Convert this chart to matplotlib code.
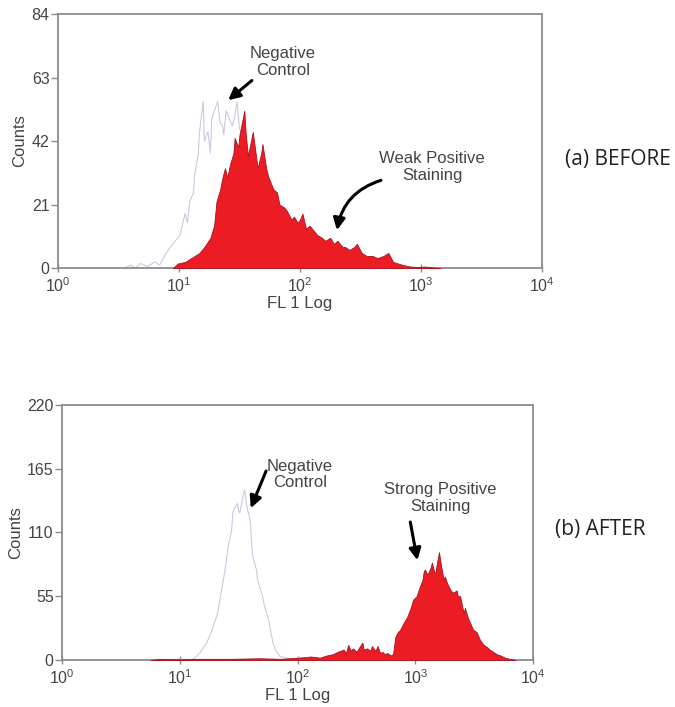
import matplotlib
matplotlib.use('Agg')
import matplotlib.pyplot as plt
import numpy as np

plt.rcParams['font.family'] = ['Liberation Sans', 'DejaVu Sans']
plt.rcParams['mathtext.fontset'] = 'custom'
plt.rcParams['mathtext.rm'] = 'Liberation Sans'
plt.rcParams['mathtext.it'] = 'Liberation Sans'

# --- (a) BEFORE: log10 of FL1 channel and counts
before_pos_log = [0.95, 0.99, 1.05, 1.09, 1.13, 1.17, 1.21, 1.26, 1.29, 1.31, 1.34, 1.36, 1.38, 1.40,
                  1.42, 1.45, 1.46, 1.49, 1.50, 1.52, 1.54, 1.55, 1.57, 1.59, 1.61, 1.64, 1.65, 1.68,
                  1.69, 1.72, 1.74, 1.75, 1.78, 1.81, 1.83, 1.87, 1.89, 1.93, 1.95, 1.98, 2.00, 2.02,
                  2.05, 2.08, 2.11, 2.14, 2.18, 2.21, 2.25, 2.28, 2.31, 2.35, 2.37, 2.41, 2.45, 2.47,
                  2.51, 2.55, 2.60, 2.64, 2.69, 2.73, 2.77, 2.81, 2.85, 2.91, 2.98, 3.03, 3.09, 3.16]
before_pos_cnt = [0, 1.5, 2, 3, 4, 5, 7, 10, 14, 22, 26, 30, 33, 30,
                  34, 38, 43, 40, 44, 48, 52, 45, 37, 41, 45, 36, 33, 38,
                  41, 33, 30, 29, 26, 25, 21, 20, 19, 16, 17, 15, 16, 18,
                  13, 14, 12.5, 11, 10, 9, 10, 8, 9, 7, 7, 6, 7, 8,
                  5, 4, 4, 3.3, 4, 5, 2, 1.5, 1, 0.5, 0.3, 0.5, 0.2, 0]

before_neg_log = [0.55, 0.60, 0.64, 0.68, 0.74, 0.80, 0.84, 0.88, 0.93, 0.97, 1.01, 1.05, 1.07, 1.09,
                  1.12, 1.13, 1.16, 1.17, 1.20, 1.21, 1.24, 1.26, 1.27, 1.30, 1.32, 1.34, 1.36, 1.37,
                  1.39, 1.41, 1.44, 1.46, 1.48, 1.50, 1.52, 1.55, 1.59, 1.63, 1.67, 1.71, 1.75, 1.82,
                  1.88, 1.96, 2.04, 2.12, 2.21]
before_neg_cnt = [0, 1, 0, 1.5, 0.5, 2, 1, 4, 7, 9, 11, 18, 15, 22,
                  25, 31, 38, 45, 55, 42, 45, 38, 49, 53, 55, 48, 47, 44,
                  52, 50, 47, 50, 55, 46, 45, 40, 35, 30, 22, 16, 12, 8,
                  5, 3, 1.5, 0.5, 0]

# --- (b) AFTER
after_pos_log = [0.75, 0.83, 1.00, 1.17, 1.43, 1.68, 1.85, 2.02, 2.11, 2.19, 2.25, 2.30, 2.34, 2.39,
                 2.41, 2.43, 2.45, 2.47, 2.50, 2.53, 2.55, 2.56, 2.59, 2.62, 2.63, 2.66, 2.68, 2.70,
                 2.72, 2.74, 2.76, 2.79, 2.81, 2.83, 2.85, 2.87, 2.90, 2.93, 2.96, 2.98, 3.01, 3.02,
                 3.04, 3.06, 3.07, 3.08, 3.10, 3.11, 3.13, 3.14, 3.16, 3.17, 3.18, 3.20, 3.22, 3.24,
                 3.25, 3.27, 3.29, 3.30, 3.32, 3.35, 3.36, 3.38, 3.41, 3.42, 3.45, 3.46, 3.49, 3.52,
                 3.55, 3.58, 3.61, 3.63, 3.66, 3.69, 3.72, 3.76, 3.80, 3.85]
after_pos_cnt = [0, 1, 0.5, 1, 1, 1.5, 1, 2, 3, 2, 4, 5, 7, 9,
                 6, 13, 8, 10, 7, 12, 15, 9, 10, 8, 12, 8, 12, 6,
                 7, 5, 6, 4, 5, 20, 24, 26, 32, 37, 45, 52, 55, 58,
                 64, 69, 76, 78, 74, 75, 80, 84, 76, 75, 82, 93, 80, 69,
                 72, 66, 62, 60, 58, 60, 55, 55, 40, 45, 35, 33, 26, 24,
                 17, 13, 11, 9, 7, 5, 4, 2, 1, 0]

after_neg_log = [0.92, 1.00, 1.09, 1.13, 1.17, 1.23, 1.27, 1.32, 1.34, 1.37, 1.39, 1.41, 1.44, 1.45,
                 1.47, 1.49, 1.50, 1.51, 1.53, 1.55, 1.56, 1.57, 1.59, 1.60, 1.61, 1.62, 1.65, 1.66,
                 1.70, 1.72, 1.75, 1.77, 1.79, 1.81, 1.85, 1.94, 2.02, 2.11]
after_neg_cnt = [0, 1, 0, 2, 6, 15, 25, 40, 52, 69, 82, 97, 112, 127,
                 132, 135, 128, 127, 138, 147, 140, 132, 124, 118, 100, 89, 78, 69,
                 56, 46, 36, 26, 15, 9, 3, 1, 2, 0]

red = '#ec1c24'
red_edge = '#a8121c'
ctrl = '#cacae0'
grey = '#8c8c8c'
txt = '#444444'

fig = plt.figure(figsize=(6.75, 7.07), dpi=100)
ax1 = fig.add_axes([0.0859, 0.6209, 0.717, 0.3593])
ax2 = fig.add_axes([0.0919, 0.0665, 0.698, 0.3607])


def draw(ax, neg_log, neg_cnt, pos_log, pos_cnt, ymax, yticks):
    ax.plot(10 ** np.array(neg_log), neg_cnt, color=ctrl, lw=0.8, zorder=2)
    ax.fill_between(10 ** np.array(pos_log), pos_cnt, 0, facecolor=red,
                    edgecolor=red_edge, lw=0.6, zorder=3)
    ax.set_xscale('log')
    ax.set_xlim(1, 1e4)
    ax.set_ylim(0, ymax)
    ax.set_xticks([1, 10, 100, 1000, 10000])
    ax.set_xticklabels([r'$10^{0}$', r'$10^{1}$', r'$10^{2}$', r'$10^{3}$', r'$10^{4}$'])
    ax.minorticks_off()
    ax.set_yticks(yticks)
    ax.set_yticklabels([str(t) for t in yticks])
    for s in ax.spines.values():
        s.set_color(grey)
        s.set_linewidth(1.3)
    ax.tick_params(axis='y', direction='out', length=5, width=1, color=grey,
                   labelsize=11.5, labelcolor=txt, pad=1)
    ax.tick_params(axis='x', direction='inout', length=6, width=1, color=grey,
                   labelsize=11.5, labelcolor=txt, pad=3)
    ax.set_xlabel('FL 1 Log', fontsize=12, color=txt, labelpad=1)
    ax.set_ylabel('Counts', fontsize=12, color=txt, labelpad=3)


draw(ax1, before_neg_log, before_neg_cnt, before_pos_log, before_pos_cnt, 84, [0, 21, 42, 63, 84])
draw(ax2, after_neg_log, after_neg_cnt, after_pos_log, after_pos_cnt, 220, [0, 55, 110, 165, 220])

arrow = dict(arrowstyle='-|>,head_length=0.7,head_width=0.35', lw=2.2, color='black',
             shrinkA=0, shrinkB=0)
note = dict(ha='center', va='center', fontsize=12, color=txt, linespacing=1.15)

ax1.text(72, 68, 'Negative\nControl', **note)
ax1.annotate('', xy=(25.5, 55.5), xytext=(40, 62), arrowprops=arrow)
ax1.text(1233, 33.4, 'Weak Positive\nStaining', **note)
ax1.annotate('', xy=(202, 12.5), xytext=(467, 29),
             arrowprops=dict(arrow, connectionstyle='arc3,rad=0.3'))

ax2.text(105, 160, 'Negative\nControl', **note)
ax2.annotate('', xy=(40, 131), xytext=(54, 163), arrowprops=arrow)
ax2.text(1622, 140, 'Strong Positive\nStaining', **note)
ax2.annotate('', xy=(1040, 86), xytext=(905, 119), arrowprops=arrow)

fig.text(565 / 675, 1 - 160 / 707, '(a) BEFORE', fontsize=15, color='#222222',
         family=['Open Sans', 'DejaVu Sans'], ha='left', va='center')
fig.text(555 / 675, 1 - 530 / 707, '(b) AFTER', fontsize=15, color='#222222',
         family=['Open Sans', 'DejaVu Sans'], ha='left', va='center')

fig.savefig('out.png', dpi=100, facecolor='white')
